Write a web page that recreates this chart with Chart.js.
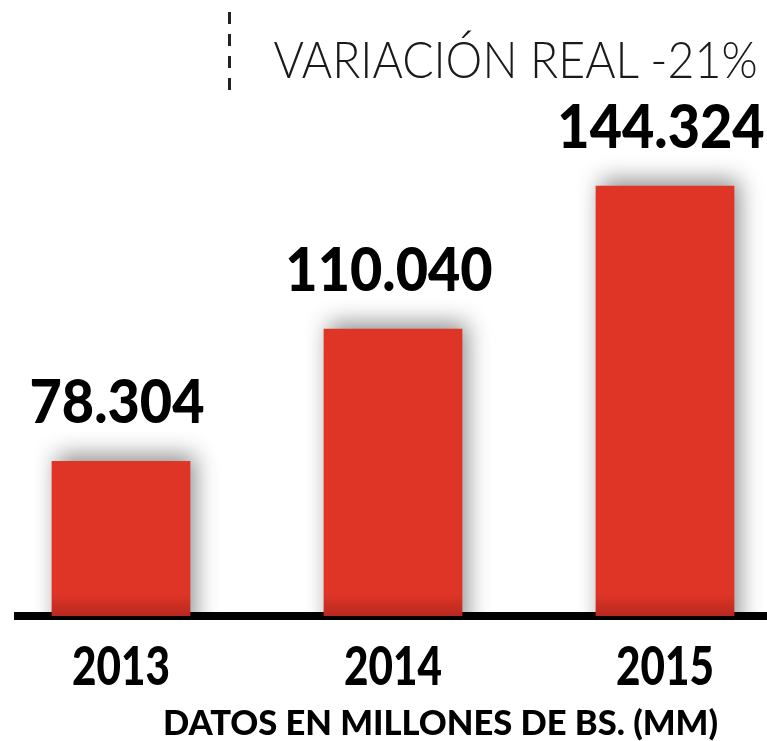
<!DOCTYPE html>
<html lang="es">
<head>
<meta charset="UTF-8">
<title>Variación real -21%</title>
<script src="https://cdn.jsdelivr.net/npm/chart.js@4.4.1/dist/chart.umd.min.js"></script>
<style>
  html, body { margin: 0; padding: 0; background: #fff; width: 767px; height: 741px; overflow: hidden; }
  .dash { position: absolute; left: 228px; top: 12px; width: 3px; height: 84px;
          background: repeating-linear-gradient(to bottom, #222 0 12px, transparent 12px 22px); }
  .title { position: absolute; right: 9px; top: 33px; font-family: Lato, sans-serif; font-weight: 300;
           font-size: 51px; line-height: 1; color: #1a1a1a; white-space: nowrap; transform-origin: right top; }
  .footer { position: absolute; left: 163px; top: 705px; font-family: Lato, sans-serif; font-weight: 900;
            font-size: 34px; line-height: 1; color: #000; white-space: nowrap; transform-origin: left top; }
  .clip { position: absolute; left: 14px; top: 0; width: 753px; height: 741px; overflow: hidden; }
  .box { position: absolute; left: -29px; top: 0; width: 816px; height: 741px; }
</style>
</head>
<body>
  <div class="dash"></div>
  <div class="title" id="title">VARIACIÓN REAL -21%</div>
  <div class="clip"><div class="box"><canvas id="chart"></canvas></div></div>
  <div class="footer" id="footer">DATOS EN MILLONES DE BS. (MM)</div>

<script>
const years = ['2013', '2014', '2015'];
const amounts = [78304, 110040, 144324];

const RED = '#df3526';

function fmt(v) {
  return String(v).replace(/\B(?=(\d{3})+(?!\d))/g, '.');
}

// draws text squeezed horizontally (the original uses a condensed face)
function squeezed(ctx, text, x, y, sx) {
  ctx.save();
  ctx.translate(x, y);
  ctx.scale(sx, 1);
  ctx.fillText(text, 0, 0);
  ctx.restore();
}

// soft shadow behind bars + value labels above
const barDecor = {
  id: 'barDecor',
  beforeDatasetsDraw(chart) {
    const ctx = chart.ctx;
    ctx.save();
    ctx.shadowColor = 'rgba(0,0,0,0.45)';
    ctx.shadowBlur = 22;
    ctx.shadowOffsetX = 5;
    ctx.shadowOffsetY = -6;
  },
  afterDatasetsDraw(chart) {
    const ctx = chart.ctx;
    ctx.restore();
    ctx.save();
    ctx.font = '900 60px Lato, sans-serif';
    ctx.fillStyle = '#000';
    ctx.textAlign = 'center';
    ctx.textBaseline = 'alphabetic';
    chart.getDatasetMeta(0).data.forEach((bar, i) => {
      squeezed(ctx, fmt(amounts[i]), bar.x - 4, bar.y - 38, 0.93);
    });
    ctx.restore();
  },
  // year labels under the axis, placed by the category scale
  afterDraw(chart) {
    const ctx = chart.ctx;
    const xs = chart.scales.x;
    ctx.save();
    ctx.font = '900 53px Lato, sans-serif';
    ctx.fillStyle = '#000';
    ctx.textAlign = 'center';
    ctx.textBaseline = 'alphabetic';
    const sx = 98 / ctx.measureText('2013').width;
    years.forEach((y, i) => {
      squeezed(ctx, y, xs.getPixelForValue(i), xs.top + 69, sx);
    });
    ctx.restore();
  }
};

new Chart(document.getElementById('chart'), {
  type: 'bar',
  data: {
    labels: years,
    datasets: [{
      data: amounts,
      backgroundColor: (c) => {
        const area = c.chart.chartArea;
        if (!area) return RED;
        const g = c.chart.ctx.createLinearGradient(0, area.bottom - 22, 0, area.bottom);
        g.addColorStop(0, RED);
        g.addColorStop(1, '#b9281f');
        return g;
      },
      borderWidth: 0,
      barPercentage: 0.51,
      categoryPercentage: 1
    }]
  },
  options: {
    responsive: true,
    maintainAspectRatio: false,
    animation: false,
    layout: { padding: { top: 100, left: 0, right: 0, bottom: 0 } },
    plugins: { legend: { display: false }, tooltip: { enabled: false } },
    scales: {
      x: {
        z: 1,
        grid: { display: false },
        border: { display: true, color: '#000', width: 8 },
        ticks: { display: false },
        afterFit: (s) => { s.height = 125; }
      },
      y: { display: false, min: 41100, max: 164900 }
    }
  },
  plugins: [barDecor]
});

// fit title and footer to the widths in the original
const t = document.getElementById('title');
t.style.transform = 'scaleX(' + (484 / t.getBoundingClientRect().width) + ')';
const f = document.getElementById('footer');
f.style.transform = 'scaleX(' + (555 / f.getBoundingClientRect().width) + ')';
</script>
</body>
</html>
